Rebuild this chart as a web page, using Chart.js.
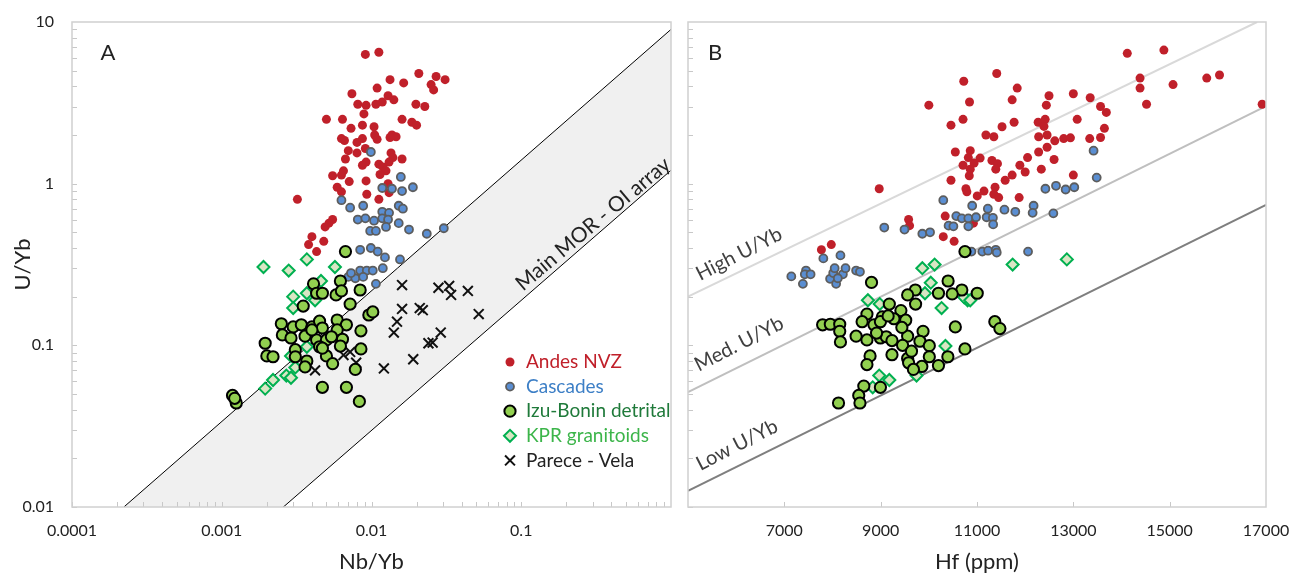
<!DOCTYPE html>
<html>
<head>
<meta charset="utf-8">
<script src="https://cdn.jsdelivr.net/npm/chart.js@4.4.1/dist/chart.umd.min.js"></script>
<style>
  html, body { margin: 0; padding: 0; background: #fff; }
  #wrap { position: relative; width: 1290px; height: 573px; }
  .panel { position: absolute; top: 0; height: 573px; }
  #panelA { left: 0; width: 680px; }
  #panelB { left: 680px; width: 610px; }
</style>
</head>
<body>
<div id="wrap">
  <div class="panel" id="panelA"><canvas id="chartA"></canvas></div>
  <div class="panel" id="panelB"><canvas id="chartB"></canvas></div>
</div>
<script>
// ---- tick labels ----
const nbTicks = [0.0001, 0.001, 0.01, 0.1, 1];
const nbTickLabels = ["0.0001", "0.001", "0.01", "0.1", ""];
const uybTicks = [0.01, 0.1, 1, 10];
const uybTickLabels = ["0.01", "0.1", "1", "10"];
const hfTicks = [5000, 7000, 9000, 11000, 13000, 15000, 17000];
const hfTickLabels = ["", "7000", "9000", "11000", "13000", "15000", "17000"];

// ---- panel A: Nb/Yb vs U/Yb ----
const andesA = [[0.0091,6.3],[0.0112,6.5],[0.0207,4.8],[0.027,4.6],[0.031,4.4],[0.0133,4.4],[0.0164,4.2],[0.025,4.1],[0.026,3.8],[0.0074,3.6],[0.0109,3.9],[0.0129,3.5],[0.0141,3.3],[0.0118,3.2],[0.0107,3.1],[0.0081,3.1],[0.0092,3.05],[0.0198,3.1],[0.0227,3.0],[0.0089,2.7],[0.005,2.5],[0.0064,2.5],[0.016,2.5],[0.0186,2.4],[0.02,2.3],[0.0087,2.3],[0.0104,2.25],[0.0073,2.2],[0.0063,1.9],[0.0066,1.85],[0.008,1.8],[0.0087,1.9],[0.0105,2.0],[0.0109,1.88],[0.0137,2.0],[0.0146,1.95],[0.0133,1.93],[0.0091,1.65],[0.007,1.6],[0.008,1.55],[0.0135,1.55],[0.0067,1.42],[0.0139,1.45],[0.016,1.42],[0.0092,1.36],[0.0087,1.3],[0.0112,1.32],[0.0119,1.27],[0.0131,1.36],[0.0125,1.2],[0.0065,1.2],[0.0055,1.12],[0.0063,1.13],[0.0114,1.14],[0.0092,1.04],[0.0071,1.03],[0.0059,0.95],[0.0129,1.0],[0.0131,0.88],[0.0063,0.89],[0.0093,0.86],[0.0112,0.8],[0.0032,0.8],[0.0055,0.6],[0.0052,0.57],[0.0049,0.54],[0.004,0.47],[0.0048,0.44],[0.0038,0.42],[0.0043,0.38]];
const cascadesA = [[0.0099,1.57],[0.0157,1.1],[0.0118,0.94],[0.0137,0.93],[0.016,0.9],[0.0189,0.95],[0.0063,0.79],[0.0072,0.71],[0.0088,0.73],[0.0118,0.67],[0.0131,0.66],[0.0152,0.73],[0.0162,0.7],[0.0081,0.6],[0.0091,0.61],[0.0104,0.59],[0.0118,0.61],[0.0129,0.6],[0.0152,0.57],[0.0098,0.51],[0.0107,0.51],[0.0125,0.54],[0.0178,0.52],[0.0234,0.49],[0.0304,0.53],[0.0084,0.39],[0.0099,0.4],[0.011,0.38],[0.0123,0.35],[0.0155,0.34],[0.0084,0.29],[0.0093,0.29],[0.0102,0.29],[0.0119,0.3],[0.007,0.265],[0.0078,0.26],[0.0088,0.265],[0.0107,0.24],[0.0073,0.28]];
const izuA = [[0.0067,0.38],[0.0041,0.24],[0.0062,0.25],[0.0043,0.21],[0.0047,0.21],[0.0058,0.205],[0.0063,0.217],[0.0084,0.22],[0.0035,0.175],[0.0072,0.18],[0.0096,0.154],[0.0102,0.161],[0.0025,0.136],[0.003,0.13],[0.0034,0.134],[0.004,0.13],[0.0045,0.141],[0.0047,0.128],[0.0059,0.1435],[0.0068,0.134],[0.0059,0.1245],[0.0085,0.123],[0.00254,0.116],[0.0029,0.111],[0.0036,0.114],[0.0043,0.108],[0.005,0.108],[0.0064,0.109],[0.00195,0.103],[0.0031,0.094],[0.0045,0.098],[0.0062,0.099],[0.0085,0.095],[0.002,0.086],[0.0022,0.085],[0.0031,0.085],[0.005,0.086],[0.0037,0.08],[0.0055,0.077],[0.0078,0.071],[0.0036,0.0735],[0.0047,0.055],[0.0068,0.055],[0.00118,0.049],[0.00125,0.044],[0.00122,0.047],[0.0083,0.045],[0.004,0.1245],[0.0054,0.113],[0.0047,0.096]];
const kprA = [[0.0019,0.305],[0.0028,0.29],[0.0037,0.34],[0.0057,0.305],[0.0046,0.25],[0.003,0.2],[0.0037,0.21],[0.003,0.17],[0.0042,0.19],[0.0037,0.098],[0.0029,0.086],[0.0031,0.073],[0.0022,0.061],[0.00195,0.054],[0.0027,0.065],[0.0029,0.063]];
const pareceA = [[0.016,0.236],[0.028,0.227],[0.033,0.233],[0.034,0.205],[0.044,0.217],[0.016,0.168],[0.021,0.17],[0.022,0.165],[0.052,0.156],[0.0148,0.14],[0.0141,0.12],[0.029,0.12],[0.024,0.103],[0.0256,0.104],[0.019,0.082],[0.0121,0.072],[0.0042,0.07],[0.0072,0.091],[0.0065,0.087],[0.0079,0.078]];
// Main MOR - OI array boundaries
const morUpper = [[0.000222, 0.01], [1, 9.0]];
const morLower = [[0.000222, 0.00139], [1, 1.21]];

// ---- panel B: Hf (ppm) vs U/Yb ----
const andesB = [[14120,6.4],[14880,6.7],[11410,4.8],[10725,4.3],[14385,4.5],[14385,3.9],[15070,4.1],[15770,4.5],[16035,4.7],[16920,3.1],[14520,3.1],[11835,3.9],[10845,3.2],[10000,3.06],[11730,3.3],[12495,3.5],[13000,3.6],[13350,3.4],[12440,3.06],[13565,3.0],[13685,2.76],[10710,2.5],[11770,2.4],[13080,2.5],[12270,2.4],[12415,2.5],[12390,2.26],[10460,2.3],[11520,2.25],[13645,2.2],[11185,2.0],[11350,1.95],[12280,1.95],[12455,2.0],[12615,1.84],[12800,1.9],[12940,1.92],[13340,1.9],[13565,1.93],[10550,1.57],[10860,1.6],[12280,1.57],[12455,1.68],[10820,1.45],[11065,1.44],[11310,1.39],[11425,1.33],[12050,1.45],[12600,1.41],[10710,1.3],[10940,1.34],[10860,1.23],[11390,1.23],[11890,1.3],[10840,1.12],[11730,1.13],[12000,1.18],[12335,1.23],[10460,1.05],[11585,1.05],[8970,0.93],[10770,0.93],[10790,0.89],[11005,0.84],[11145,0.9],[11375,0.95],[11350,0.86],[11450,0.82],[11875,0.82],[13000,1.13],[9580,0.6],[9600,0.55],[10340,0.63],[10925,0.57],[10300,0.47],[10525,0.44],[7770,0.39],[7975,0.42]];
const cascadesB = [[13420,1.6],[13485,1.09],[12420,0.93],[12640,0.97],[12840,0.92],[13020,0.95],[10300,0.79],[10900,0.73],[11225,0.7],[11570,0.69],[11795,0.67],[12175,0.73],[12155,0.66],[12585,0.655],[10570,0.63],[10685,0.61],[10820,0.61],[10980,0.62],[11200,0.62],[11330,0.615],[10410,0.55],[10510,0.545],[10820,0.545],[11335,0.56],[9075,0.535],[9495,0.52],[9865,0.49],[10025,0.5],[10885,0.38],[11110,0.38],[11230,0.385],[11390,0.39],[11410,0.375],[12060,0.38],[8165,0.36],[7810,0.345],[7145,0.267],[7385,0.24],[7450,0.29],[7425,0.275],[7545,0.275],[7950,0.258],[8015,0.28],[8045,0.3],[8075,0.24],[8215,0.275],[8270,0.3],[8490,0.29],[8570,0.285],[8110,0.26]];
const izuB = [[10750,0.38],[8810,0.245],[10400,0.25],[9720,0.22],[10685,0.22],[9560,0.205],[10200,0.21],[10485,0.208],[11005,0.21],[9725,0.18],[9180,0.18],[9420,0.164],[8715,0.156],[9035,0.15],[7795,0.134],[7955,0.135],[8150,0.135],[8150,0.122],[8165,0.105],[8615,0.14],[8860,0.134],[8995,0.14],[9275,0.146],[9520,0.143],[10550,0.13],[11370,0.14],[11475,0.127],[8490,0.114],[8715,0.108],[8995,0.111],[9115,0.113],[9235,0.107],[9560,0.114],[9880,0.122],[9815,0.106],[9455,0.1],[10010,0.0995],[8780,0.086],[9235,0.0875],[9560,0.083],[10010,0.085],[10395,0.085],[10750,0.095],[8715,0.076],[9580,0.078],[9855,0.074],[10200,0.075],[9680,0.071],[8650,0.056],[8995,0.055],[8545,0.049],[8125,0.044],[8570,0.044],[9155,0.152],[8915,0.119],[9440,0.129],[9640,0.092]];
const kprB = [[9865,0.3],[10120,0.316],[11740,0.316],[12865,0.34],[10040,0.244],[9920,0.21],[8735,0.19],[8980,0.18],[10265,0.17],[10805,0.19],[10735,0.198],[10860,0.19],[10345,0.099],[8970,0.065],[9180,0.061],[8835,0.055],[9745,0.065]];
// U/Yb reference lines
const highLine = [[5000, 0.2], [16815, 10]];
const medLine = [[5000, 0.0514], [17000, 3.02]];
const lowLine = [[5000, 0.0126], [17000, 0.74]];

// ---- series styles ----
const series = {
  andes: { label: "Andes NVZ", pointStyle: "circle", radius: 4.5, bg: "#c0202a", border: "#c0202a", bw: 0, text: "#c0202a", order: 5 },
  cascades: { label: "Cascades", pointStyle: "circle", radius: 4, bg: "#5a8ed2", border: "#5d5d5d", bw: 1.8, text: "#3d7fc6", order: 4 },
  izu: { label: "Izu-Bonin detrital", pointStyle: "circle", radius: 5.6, bg: "#92d050", border: "#000000", bw: 2, text: "#1f7a3a", order: 1 },
  kpr: { label: "KPR granitoids", pointStyle: "rectRot", radius: 6, bg: "#d9e6c4", border: "#00b050", bw: 2, text: "#3cb54a", order: 3 },
  parece: { label: "Parece - Vela", pointStyle: "crossRot", radius: 7, bg: "#111111", border: "#111111", bw: 2, text: "#222222", order: 2 },
};

Chart.defaults.font.family = "Lato, 'Open Sans', sans-serif";
Chart.defaults.color = "#222";

const pts = arr => arr.map(([x, y]) => ({ x, y }));

function scatterSet(key, data) {
  const s = series[key];
  return {
    label: s.label,
    data: pts(data),
    pointStyle: s.pointStyle,
    pointRadius: s.radius,
    pointBackgroundColor: s.bg,
    pointBorderColor: s.border,
    pointBorderWidth: s.bw,
    order: s.order,
  };
}

function refLine(data, color, width, extra) {
  return Object.assign({
    type: "line",
    data: pts(data),
    borderColor: color,
    borderWidth: width,
    pointRadius: 0,
    fill: false,
    order: 10,
  }, extra || {});
}

function logMarks(min, max) {
  const marks = [];
  for (let d = min; d < max * 1.0001; d *= 10) {
    for (let m = 1; m <= 9; m++) {
      const v = d * m;
      if (v > min * 0.9999 && v < max * 0.9999) marks.push(v);
    }
  }
  return marks;
}

// frame and inside tick marks
const frameTicks = {
  id: "frameTicks",
  afterDatasetsDraw(chart, args, opts) {
    const { ctx, chartArea: a, scales } = chart;
    ctx.save();
    ctx.strokeStyle = "#c8c8c8";
    ctx.lineWidth = 1;
    ctx.beginPath();
    (opts.xMarks || []).forEach(v => {
      const px = Math.round(scales.x.getPixelForValue(v)) + 0.5;
      ctx.moveTo(px, a.bottom);
      ctx.lineTo(px, a.bottom - 5);
    });
    (opts.yMarks || []).forEach(v => {
      const py = Math.round(scales.y.getPixelForValue(v)) + 0.5;
      ctx.moveTo(a.left, py);
      ctx.lineTo(a.left + 5, py);
    });
    ctx.stroke();
    ctx.strokeStyle = "#d0d0d0";
    ctx.lineWidth = 1.5;
    ctx.strokeRect(a.left, a.top, a.right - a.left, a.bottom - a.top);
    ctx.restore();
  },
};

function drawMarker(ctx, s, x, y) {
  const r = s.radius;
  ctx.save();
  ctx.fillStyle = s.bg;
  ctx.strokeStyle = s.border;
  ctx.lineWidth = s.bw;
  ctx.beginPath();
  if (s.pointStyle === "circle") {
    ctx.arc(x, y, r, 0, Math.PI * 2);
    ctx.fill();
    if (s.bw > 0) ctx.stroke();
  } else if (s.pointStyle === "rectRot") {
    ctx.moveTo(x - r, y);
    ctx.lineTo(x, y - r);
    ctx.lineTo(x + r, y);
    ctx.lineTo(x, y + r);
    ctx.closePath();
    ctx.fill();
    ctx.stroke();
  } else {
    const d = r * Math.SQRT1_2;
    ctx.moveTo(x - d, y - d);
    ctx.lineTo(x + d, y + d);
    ctx.moveTo(x + d, y - d);
    ctx.lineTo(x - d, y + d);
    ctx.stroke();
  }
  ctx.restore();
}

// panel letters, rotated labels and the legend
const notes = {
  id: "notes",
  afterDraw(chart, args, opts) {
    const ctx = chart.ctx;
    (opts.texts || []).forEach(n => {
      ctx.save();
      ctx.translate(n.x, n.y);
      ctx.rotate((n.rot || 0) * Math.PI / 180);
      ctx.font = n.font;
      ctx.fillStyle = n.color;
      ctx.textAlign = "center";
      ctx.textBaseline = "middle";
      ctx.fillText(n.text, 0, 0);
      ctx.restore();
    });
    (opts.legend || []).forEach((key, i) => {
      const s = series[key];
      const y = opts.legendY + i * opts.legendStep;
      drawMarker(ctx, s, opts.legendX, y);
      ctx.save();
      ctx.font = "19px Lato, sans-serif";
      ctx.fillStyle = s.text;
      ctx.textAlign = "left";
      ctx.textBaseline = "middle";
      ctx.fillText(s.label, opts.legendX + 16, y);
      ctx.restore();
    });
  },
};

function noPad(s) {
  s.paddingLeft = 0; s.paddingRight = 0; s.paddingTop = 0; s.paddingBottom = 0;
}

// ---- chart A ----
new Chart(document.getElementById("chartA"), {
  type: "scatter",
  data: {
    datasets: [
      refLine(morUpper, "#000", 1, { fill: "+1", backgroundColor: "#f0f0f0", order: 10 }),
      refLine(morLower, "#000", 1, { order: 9 }),
      scatterSet("andes", andesA),
      scatterSet("cascades", cascadesA),
      scatterSet("izu", izuA),
      scatterSet("kpr", kprA),
      scatterSet("parece", pareceA),
    ],
  },
  options: {
    responsive: true,
    maintainAspectRatio: false,
    animation: false,
    events: [],
    layout: { padding: { left: 0, right: 7, top: 22, bottom: 0 } },
    plugins: {
      legend: { display: false },
      tooltip: { enabled: false },
      frameTicks: { xMarks: logMarks(0.0001, 1), yMarks: logMarks(0.01, 10) },
      notes: {
        texts: [
          { text: "A", x: 108, y: 53, font: "22px Lato, sans-serif", color: "#222" },
          { text: "Main MOR - OI array", x: 593, y: 224, rot: -40, font: "21px Lato, sans-serif", color: "#222" },
        ],
        legend: ["andes", "cascades", "izu", "kpr", "parece"],
        legendX: 510,
        legendY: 362,
        legendStep: 24.6,
      },
    },
    scales: {
      x: {
        type: "logarithmic",
        min: 0.0001,
        max: 1,
        afterBuildTicks: s => { s.ticks = nbTicks.map(v => ({ value: v })); },
        afterFit: s => { s.height = 66; noPad(s); },
        grid: { display: false, drawTicks: false },
        border: { display: false },
        ticks: { autoSkip: false, maxRotation: 0, padding: 14, font: { size: 16 }, color: "#222",
          callback: (v, i) => nbTickLabels[i] },
        title: { display: true, text: "Nb/Yb", font: { size: 22 }, color: "#222", padding: { top: 0, bottom: -2 } },
      },
      y: {
        type: "logarithmic",
        min: 0.01,
        max: 10,
        afterBuildTicks: s => { s.ticks = uybTicks.map(v => ({ value: v })); },
        afterFit: s => { s.width = 72; noPad(s); },
        grid: { display: false, drawTicks: false },
        border: { display: false },
        ticks: { autoSkip: false, padding: 18, font: { size: 16 }, color: "#222",
          callback: (v, i) => uybTickLabels[i] },
        title: { display: true, text: "U/Yb", font: { size: 22 }, color: "#222", padding: { top: 10, bottom: 0 } },
      },
    },
  },
  plugins: [frameTicks, notes],
});

// ---- chart B ----
new Chart(document.getElementById("chartB"), {
  type: "scatter",
  data: {
    datasets: [
      refLine(highLine, "#d9d9d9", 2),
      refLine(medLine, "#bfbfbf", 2),
      refLine(lowLine, "#7f7f7f", 2),
      scatterSet("andes", andesB),
      scatterSet("cascades", cascadesB),
      scatterSet("izu", izuB),
      scatterSet("kpr", kprB),
    ],
  },
  options: {
    responsive: true,
    maintainAspectRatio: false,
    animation: false,
    events: [],
    layout: { padding: { left: 0, right: 24, top: 22, bottom: 0 } },
    plugins: {
      legend: { display: false },
      tooltip: { enabled: false },
      frameTicks: { xMarks: hfTicks.slice(1, -1), yMarks: logMarks(0.01, 10) },
      notes: {
        texts: [
          { text: "B", x: 35, y: 53, font: "22px Lato, sans-serif", color: "#222" },
          { text: "High U/Yb", x: 59, y: 254, rot: -27, font: "20px Lato, sans-serif", color: "#404040" },
          { text: "Med. U/Yb", x: 59, y: 344, rot: -27, font: "20px Lato, sans-serif", color: "#404040" },
          { text: "Low U/Yb", x: 57, y: 445, rot: -27, font: "20px Lato, sans-serif", color: "#404040" },
        ],
      },
    },
    scales: {
      x: {
        type: "linear",
        min: 5000,
        max: 17000,
        afterBuildTicks: s => { s.ticks = hfTicks.map(v => ({ value: v })); },
        afterFit: s => { s.height = 66; noPad(s); },
        grid: { display: false, drawTicks: false },
        border: { display: false },
        ticks: { autoSkip: false, maxRotation: 0, padding: 14, font: { size: 16 }, color: "#222",
          callback: (v, i) => hfTickLabels[i] },
        title: { display: true, text: "Hf (ppm)", font: { size: 22 }, color: "#222", padding: { top: 0, bottom: -2 } },
      },
      y: {
        type: "logarithmic",
        min: 0.01,
        max: 10,
        afterBuildTicks: s => { s.ticks = uybTicks.map(v => ({ value: v })); },
        afterFit: s => { s.width = 3; noPad(s); },
        grid: { display: false, drawTicks: false },
        border: { display: false },
        ticks: { display: false },
      },
    },
  },
  plugins: [frameTicks, notes],
});
</script>
</body>
</html>
